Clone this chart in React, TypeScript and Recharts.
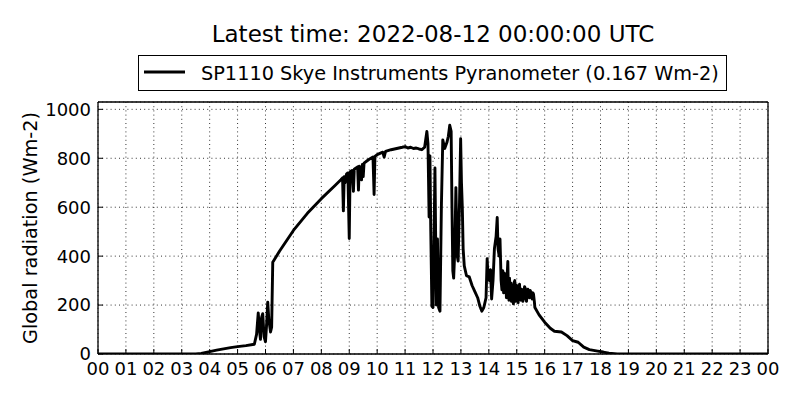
import React from 'react';
import { LineChart, Line, XAxis, YAxis, CartesianGrid } from 'recharts';

const hours = [
  0, 1, 2, 3, 3.5, 3.7, 4.0, 4.25, 4.5, 4.75, 5.0, 5.3, 5.6, 5.68, 5.74, 5.78, 5.82, 5.86, 5.9, 5.95,
  6.0, 6.04, 6.08, 6.12, 6.18, 6.22, 6.26, 6.5, 7.0, 7.5, 8.0, 8.5, 8.7, 8.76, 8.79, 8.82, 8.85, 8.9, 8.95,
  9.0, 9.03, 9.1, 9.15, 9.18, 9.3, 9.33, 9.36, 9.44, 9.47, 9.5, 9.53, 9.7, 9.85, 9.89, 9.92, 10.0, 10.2,
  10.25, 10.3, 10.5, 10.7, 10.9, 11.0, 11.1, 11.2, 11.3, 11.4, 11.5, 11.6, 11.7, 11.78, 11.82, 11.86,
  11.89, 11.92, 11.96, 12.0, 12.03, 12.07, 12.12, 12.16, 12.2, 12.25, 12.3, 12.35, 12.42, 12.5, 12.55,
  12.6, 12.65, 12.68, 12.71, 12.74, 12.78, 12.82, 12.87, 12.9, 12.95, 12.99, 13.02, 13.05, 13.08, 13.12,
  13.2, 13.3, 13.4, 13.5, 13.6, 13.68, 13.75, 13.82, 13.9, 13.94, 13.97, 14.02, 14.06, 14.1, 14.15, 14.2,
  14.26, 14.3, 14.33, 14.37, 14.4, 14.44, 14.47, 14.5, 14.53, 14.56, 14.58, 14.61, 14.63, 14.66, 14.68,
  14.7, 14.72, 14.74, 14.77, 14.79, 14.81, 14.84, 14.86, 14.88, 14.9, 14.93, 14.95, 14.97, 15.0, 15.02,
  15.05, 15.07, 15.1, 15.12, 15.15, 15.17, 15.2, 15.22, 15.25, 15.28, 15.3, 15.33, 15.35, 15.38, 15.4,
  15.43, 15.45, 15.48, 15.5, 15.53, 15.55, 15.58, 15.6, 15.63, 15.65, 15.8, 16.0, 16.2, 16.35, 16.6,
  16.8, 17.0, 17.2, 17.4, 17.6, 17.9, 18.1, 18.3, 18.6, 24,
];

const radiation = [
  0, 0, 0, 0, 0, 2, 10, 16, 21, 26, 30, 34, 40, 80, 168, 100, 60, 150, 165, 70,
  50, 120, 212, 140, 90, 110, 375, 420, 505, 575, 635, 690, 712, 720, 585, 725, 700, 735, 740,
  472, 745, 750, 665, 755, 765, 670, 768, 712, 775, 725, 780, 795, 805, 652, 808, 815, 825,
  805, 828, 835, 840, 845, 848, 842, 845, 840, 842, 838, 835, 845, 910, 860, 560,
  810, 505, 195, 190, 420, 760, 200, 470, 190, 175, 600, 875, 840, 865, 890,
  935, 910, 600, 340, 310, 420, 680, 400, 380, 620, 880, 700, 600, 430, 360,
  320, 315, 280, 255, 230, 195, 175, 190, 230, 390, 320, 300, 345, 225, 300, 430,
  480, 558, 430, 400, 470, 300, 262, 340, 250, 330, 270, 300, 230, 330, 378,
  260, 220, 310, 240, 290, 215, 280, 230, 205, 290, 300, 215, 260, 280, 225,
  210, 270, 285, 235, 220, 265, 260, 215, 240, 275, 270, 225, 215, 255, 265,
  240, 230, 260, 255, 230, 225, 250, 245, 215, 190, 160, 130, 105, 93, 90,
  75, 55, 48, 28, 18, 12, 8, 3, 0, 0,
];

const xTicks = [0, 1, 2, 3, 4, 5, 6, 7, 8, 9, 10, 11, 12, 13, 14, 15, 16, 17, 18, 19, 20, 21, 22, 23, 24];
const yTicks = [0, 200, 400, 600, 800, 1000];
const titleText = 'Latest time: 2022-08-12 00:00:00 UTC';
const legendLabel = 'SP1110 Skye Instruments Pyranometer (0.167 Wm-2)';
const yLabel = 'Global radiation (Wm-2)';

const data = hours.map((t, i) => ({ t, v: radiation[i] }));

const FONT = '"DejaVu Sans", sans-serif';
const fmtHour = (h: number) => String(Math.round(h) % 24).padStart(2, '0');

export default function App() {
  const axisLine = { stroke: '#000', strokeWidth: 1.3 };
  const tickLine = { stroke: '#000', strokeWidth: 1 };
  return (
    <div style={{ position: 'absolute', left: 0, top: 0, width: 800, height: 400, background: '#fff' }}>
      <LineChart width={800} height={400} data={data} margin={{ top: 0, right: 0, bottom: 0, left: 0 }}>
        <CartesianGrid
          xAxisId="b"
          yAxisId="l"
          stroke="#000"
          strokeWidth={0.8}
          strokeDasharray="1 3.2"
        />
        <XAxis
          xAxisId="b"
          orientation="bottom"
          dataKey="t"
          type="number"
          domain={[0, 24]}
          ticks={xTicks}
          interval={0}
          height={46}
          tickFormatter={fmtHour}
          tickSize={-5}
          tickMargin={13}
          axisLine={axisLine}
          tickLine={tickLine}
          tick={{ fill: '#000', fontSize: 18, fontFamily: FONT }}
          allowDataOverflow
        />
        <XAxis
          xAxisId="t"
          orientation="top"
          dataKey="t"
          type="number"
          domain={[0, 24]}
          ticks={xTicks}
          interval={0}
          height={102}
          tick={false}
          tickSize={-5}
          axisLine={axisLine}
          tickLine={tickLine}
          allowDataOverflow
        />
        <YAxis
          yAxisId="l"
          orientation="left"
          type="number"
          domain={[0, 1030]}
          ticks={yTicks}
          interval={0}
          width={98}
          tickSize={-5}
          tickMargin={12}
          axisLine={axisLine}
          tickLine={tickLine}
          tick={{ fill: '#000', fontSize: 18, fontFamily: FONT }}
          allowDataOverflow
        />
        <YAxis
          yAxisId="r"
          orientation="right"
          type="number"
          domain={[0, 1030]}
          ticks={yTicks}
          interval={0}
          width={32}
          tick={false}
          tickSize={-5}
          axisLine={axisLine}
          tickLine={tickLine}
          allowDataOverflow
        />
        <Line
          xAxisId="t"
          yAxisId="r"
          dataKey="v"
          stroke="none"
          dot={false}
          isAnimationActive={false}
        />
        <Line
          xAxisId="b"
          yAxisId="l"
          type="linear"
          dataKey="v"
          stroke="#000"
          strokeWidth={2.9}
          strokeLinejoin="round"
          dot={false}
          isAnimationActive={false}
        />
      </LineChart>
      <svg
        width={800}
        height={400}
        style={{ position: 'absolute', left: 0, top: 0, pointerEvents: 'none' }}
        fontFamily={FONT}
      >
        <text x={433} y={42} textAnchor="middle" fontSize={23} fill="#000">
          {titleText}
        </text>
        <rect x={138.5} y={55.5} width={588} height={35} fill="#fff" stroke="#000" strokeWidth={1} />
        <line x1={144} x2={185} y1={72} y2={72} stroke="#000" strokeWidth={2.9} />
        <text x={201} y={79.5} fontSize={19.3} fill="#000">
          {legendLabel}
        </text>
        <text
          x={0}
          y={0}
          transform="translate(37 228) rotate(-90)"
          textAnchor="middle"
          fontSize={19.3}
          fill="#000"
        >
          {yLabel}
        </text>
      </svg>
    </div>
  );
}
